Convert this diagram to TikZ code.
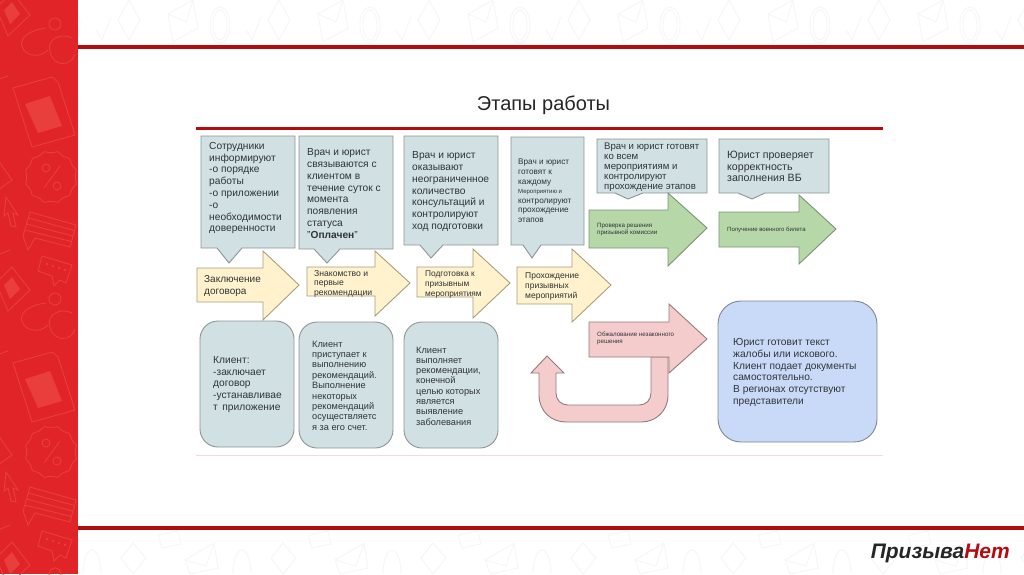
\documentclass[tikz,border=0pt]{standalone}
\usetikzlibrary{calc}
\usepackage{fontspec}
\setmainfont{Liberation Sans}
\definecolor{myred}{RGB}{224,36,40}
\definecolor{myredicon}{RGB}{232,62,60}
\definecolor{myrule}{RGB}{178,12,16}
\definecolor{mygrey}{RGB}{246,246,246}
\definecolor{myink}{RGB}{48,52,56}
\definecolor{mycall}{RGB}{208,224,227}
\definecolor{mycallline}{RGB}{140,150,150}
\definecolor{myyellow}{RGB}{255,242,204}
\definecolor{myyellowline}{RGB}{168,158,125}
\definecolor{mygreen}{RGB}{182,215,168}
\definecolor{mygreenline}{RGB}{125,145,118}
\definecolor{mypink}{RGB}{244,204,204}
\definecolor{mypinkline}{RGB}{150,122,122}
\definecolor{myblue}{RGB}{201,218,248}
\definecolor{myblueline}{RGB}{125,135,150}
\tikzset{
  callbox/.style={draw=mycallline,fill=mycall,line width=0.9pt},
  yelarrow/.style={draw=myyellowline,fill=myyellow,line width=0.9pt},
  grnarrow/.style={draw=mygreenline,fill=mygreen,line width=0.9pt},
  pnkarrow/.style={draw=mypinkline,fill=mypink,line width=0.9pt},
  sideicon/.style={draw=myredicon,line width=0.9pt},
  bandicon/.style={draw=mygrey,line width=0.9pt},
  blurb/.style 2 args={anchor=west,inner sep=0pt,align=left,text=myink,font={\fontsize{#1}{#2}\selectfont}},
}
\begin{document}
\begin{tikzpicture}[x=1pt,y=-1pt]
\useasboundingbox (0,0) rectangle (1024,574);
\fill[white] (0,0) rectangle (1024,574);
% top and bottom bands
\begin{scope}
\clip (78,0) rectangle (1024,45) (78,530) rectangle (1024,574);
\foreach \n in {-1,0,...,6}{
  \begin{scope}[xshift=150*\n pt]
  \draw[bandicon] (96,30) -- (102,40) -- (111,17);
  \draw[bandicon] (129,0) -- (140,20) -- (129,40) -- (118,20) -- cycle;
  \draw[bandicon] (168,14) -- (193,0) -- (198,28) -- (173,42) -- cycle (168,14) -- (186,22) -- (193,0);
  \draw[bandicon] (220,25) ellipse (10pt and 18pt);
  \draw[bandicon] (220,25) ellipse (7pt and 15pt);
  \draw[bandicon] (133,574) -- (146,558) -- (133,543) -- (121,558) -- cycle;
  \draw[bandicon] (185,560) -- (214,543) -- (218,568) -- (190,574) -- cycle (185,560) -- (206,566) -- (214,543);
  \draw[bandicon] (233,574) arc[start angle=180,end angle=0,x radius=9pt,y radius=24pt];
  \draw[bandicon] (158,535) -- (178,531) -- (181,544) -- (162,548) -- cycle;
  \end{scope}
}
\end{scope}
% sidebar
\fill[myred] (0,0) rectangle (78,574);
\begin{scope}
\clip (0,0) rectangle (78,574);
\foreach \n in {0,1,2}{
  \begin{scope}[yshift=-275*\n pt]
  \draw[sideicon] (55,24) circle (6pt);
  \draw[sideicon] (46,28) .. controls (28,30) and (16,40) .. (24,50) .. controls (28,56) and (40,58) .. (48,50);
  \draw[sideicon] (72,38) .. controls (60,32) and (46,40) .. (50,52) .. controls (54,68) and (72,66) .. (75,54);
  \draw[sideicon] (13,88) -- (52,77) -- (58,82) -- (75,135) -- (32,147) -- cycle;
  \fill[myredicon] (25,104) -- (50,96) -- (62,126) -- (38,133) -- cycle;
  \draw[sideicon,rotate around={-15:(51,177)}] plot[smooth cycle,samples=36,domain=0:350] ({51+(25+1.2*cos(12*\x))*cos(\x)},{177+(25+1.2*cos(12*\x))*sin(\x)});
  \draw[sideicon] (46,168) circle (4pt) (57,186) circle (4pt) (44,188) -- (60,166);
  \draw[sideicon] (6,197) -- (18,215) -- (13,213) -- (16,227) -- (11,226) -- (8,213) -- (4,216) -- cycle;
  \draw[sideicon] (30,212) -- (76,225) -- (70,247) -- (35,238) -- (28,250) -- (23,236) -- cycle;
  \foreach \s in {0.25,0.5,0.75}{\draw[sideicon] ($(30,212)!\s!(23,236)$) -- ($(76,225)!\s!(70,247)$);}
  \draw[sideicon] (42,256) -- (72,265) -- (66,283) -- (60,280) -- (54,286) -- (52,276) -- (38,271) -- cycle;
  \foreach \x/\y in {47/264,53/266,59/268,65/270}{\fill[myredicon] (\x,\y) circle (1.3pt);}
  \draw[sideicon] (-4,8) -- (12,-8) -- (30,15) -- (8,36) -- cycle;
  \fill[myredicon] (4,10) -- (12,2) -- (20,14) -- (10,24) -- cycle;
  \draw[sideicon] (-4,80) -- (8,76);
  \draw[sideicon] (-2,160) -- (12,180) -- (-2,190);
  \draw[sideicon] (-2,255) -- (10,250);
  \end{scope}
}
\end{scope}
% red rules
\fill[myrule] (78,45) rectangle (1024,49);
\fill[myrule] (78,525.5) rectangle (1024,529.5);
\fill[myrule] (196,126.5) rectangle (883,130);
\fill[myrule!15] (196,455) rectangle (883,456);
\node[anchor=center,inner sep=0pt,text=black!85,font={\fontsize{20}{22}\selectfont}] (title) at (543.5,105) {Этапы работы};
% callouts
\draw[callbox] (201,136) -- (295,136) -- (295,248) -- (242,248) -- (229,263) -- (217,248) -- (201,248) -- cycle;
\draw[callbox] (299,136) -- (393,136) -- (393,249) -- (340,249) -- (327,263) -- (314,249) -- (299,249) -- cycle;
\draw[callbox] (404,136) -- (498,136) -- (498,245) -- (443,245) -- (431,258) -- (420,245) -- (404,245) -- cycle;
\draw[callbox] (511,137) -- (584,137) -- (584,245) -- (541,245) -- (532,258) -- (523,245) -- (511,245) -- cycle;
\draw[callbox] (597,139) -- (707,139) -- (707,193) -- (643,193) -- (628,199) -- (615,193) -- (597,193) -- cycle;
\draw[callbox] (719,139) -- (829,139) -- (829,193) -- (765,193) -- (752,199) -- (738,193) -- (719,193) -- cycle;
% yellow arrows
\draw[yelarrow] (197,268) -- (263,268) -- (263,251) -- (299,285) -- (263,320) -- (263,302) -- (197,302) -- cycle;
\draw[yelarrow] (307,267) -- (375,267) -- (375,251) -- (410,283) -- (375,316) -- (375,296) -- (307,296) -- cycle;
\draw[yelarrow] (417,267) -- (473,267) -- (473,249) -- (510,283) -- (473,318) -- (473,297) -- (417,297) -- cycle;
\draw[yelarrow] (517,267) -- (572,267) -- (572,249) -- (611,285) -- (572,322) -- (572,304) -- (517,304) -- cycle;
% green arrows
\draw[grnarrow] (589,210) -- (668,210) -- (668,193) -- (707,228) -- (668,266) -- (668,248) -- (589,248) -- cycle;
\draw[grnarrow] (719,212) -- (799,212) -- (799,195) -- (836,229) -- (799,264) -- (799,247) -- (719,247) -- cycle;
% pink u-turn and arrow
\draw[pnkarrow] (668,357) -- (668,395) .. controls (668,411) and (656,422) .. (641,422) -- (566,422) .. controls (551,422) and (539,411) .. (539,395) -- (539,373) -- (531,373) -- (547,356) -- (564,373) -- (556,373) -- (556,393) .. controls (556,400) and (561,405) .. (568,405) -- (639,405) .. controls (646,405) and (651,400) .. (651,393) -- (651,357) -- cycle;
\draw[pnkarrow] (589,322) -- (669,322) -- (669,304) -- (707,339) -- (669,373) -- (669,357) -- (589,357) -- cycle;
% rounded boxes
\draw[callbox,rounded corners=18pt] (200,321) rectangle (294,447);
\draw[callbox,rounded corners=18pt] (299,322) rectangle (393,448);
\draw[callbox,rounded corners=18pt] (404,322) rectangle (498,448);
\draw[draw=myblueline,fill=myblue,line width=0.9pt,rounded corners=23pt] (718,301) rectangle (877,442);
% texts
\node[blurb={10.2}{11.8}] (infoA) at (209,188) {Сотрудники\\информируют\\-о порядке\\работы\\-о приложении\\-о\\необходимости\\доверенности};
\node[blurb={10.2}{11.8}] (infoB) at (307,193.5) {Врач и юрист\\связываются с\\клиентом в\\течение суток с\\момента\\появления\\статуса\\"\textbf{Оплачен}"};
\node[blurb={10.2}{11.8}] (infoC) at (412,191.5) {Врач и юрист\\оказывают\\неограниченное\\количество\\консультаций и\\контролируют\\ход подготовки};
\node[blurb={8.2}{9.6}] (infoD) at (518,191) {Врач и юрист\\готовят к\\каждому\\{\fontsize{6}{9.6}\selectfont Мероприятию и}\\контролируют\\прохождение\\этапов};
\node[blurb={9.6}{10}] (infoE) at (604,167) {Врач и юрист готовят\\ко всем\\мероприятиям и\\контролируют\\прохождение этапов};
\node[blurb={10.6}{11.6}] (infoF) at (727,166.5) {Юрист проверяет\\корректность\\заполнения ВБ};
\node[blurb={10}{12}] (stepA) at (204,286) {Заключение\\договора};
\node[blurb={8.6}{9.6}] (stepB) at (314,283.5) {Знакомство и\\первые\\рекомендации};
\node[blurb={8.3}{10}] (stepC) at (425,284) {Подготовка к\\призывным\\мероприятиям};
\node[blurb={8.5}{9.6}] (stepD) at (525,286.5) {Прохождение\\призывных\\мероприятий};
\node[blurb={6.2}{7}] (stepE) at (597,229.5) {Проверка решения\\призывной комиссии};
\node[blurb={6}{7}] (stepF) at (727,230) {Получение военного билета};
\node[blurb={6.2}{7}] (stepG) at (597,338.5) {Обжалование незаконного\\решения};
\node[blurb={10.2}{11.8}] (userA) at (213,384.5) {Клиент:\\-заключает\\договор\\-устанавливае\\т\, приложение};
\node[blurb={9.2}{10.4}] (userB) at (312,385.5) {Клиент\\приступает к\\выполнению\\рекомендаций.\\Выполнение\\некоторых\\рекомендаций\\осуществляетс\\я за его счет.};
\node[blurb={9.2}{10.3}] (userC) at (416,386) {Клиент\\выполняет\\рекомендации,\\конечной\\целью которых\\является\\выявление\\заболевания};
\node[blurb={10.2}{11.7}] (lawyer) at (733,372.5) {Юрист готовит текст\\жалобы или искового.\\Клиент подает документы\\самостоятельно.\\В регионах отсутствуют\\представители};
\node[anchor=east,inner sep=0pt,font={\fontsize{21}{23}\selectfont\bfseries\itshape}] (logo) at (1010,553) {\textcolor{black!85}{Призыва}\textcolor{myrule}{Нет}};
\end{tikzpicture}
\end{document}
